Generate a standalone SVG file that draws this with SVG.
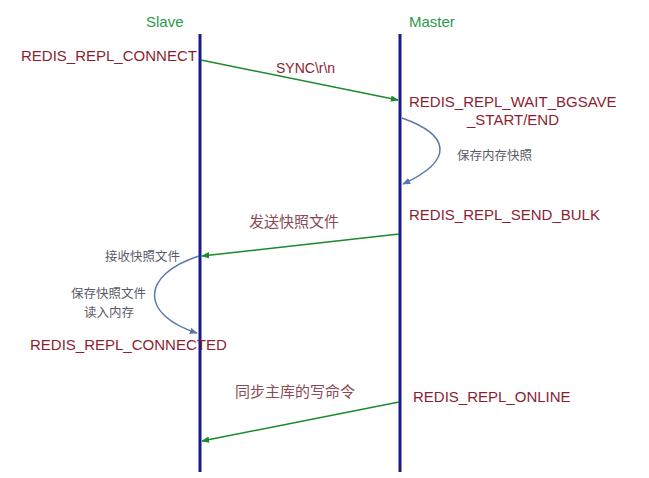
<svg xmlns="http://www.w3.org/2000/svg" width="649" height="478" viewBox="0 0 649 478">
<style>
.state{font-family:"Liberation Sans",Arial,sans-serif;font-size:15px;fill:#8b1e32}
.role{font-family:"Liberation Sans",Arial,sans-serif;font-size:15px;fill:#2a9a4a}
.msg{font-family:"Liberation Sans",Arial,sans-serif;font-size:14px;fill:#8b1e32}
.cn{font-family:"Noto Sans CJK SC",sans-serif;font-size:12.5px;fill:#5a5a6a}
.cnr{font-family:"Noto Sans CJK SC",sans-serif;font-size:15px;fill:#8a4a55}
.life{stroke:#1a1a8a;stroke-width:3;fill:none}
.arr{stroke:#1a8a2a;stroke-width:1.5;fill:none;marker-end:url(#ga)}
.loop{stroke:#5a78ae;stroke-width:1.5;fill:none;marker-end:url(#ba)}
</style>
<defs>
<marker id="ga" viewBox="0 0 10 10" refX="9" refY="5" markerWidth="8" markerHeight="8" orient="auto" markerUnits="userSpaceOnUse"><path d="M0,1 L10,5 L0,9 z" fill="#1a8a2a"/></marker>
<marker id="ba" viewBox="0 0 10 10" refX="9" refY="5" markerWidth="8" markerHeight="8" orient="auto" markerUnits="userSpaceOnUse"><path d="M0,1 L10,5 L0,9 z" fill="#5a78ae"/></marker>
</defs>
<rect width="649" height="478" fill="#fff"/>
<g id="slave">
<text class="role" x="146" y="27">Slave</text>
<line class="life" x1="200" y1="34" x2="200" y2="472"/>
</g>
<g id="master">
<text class="role" x="409" y="27">Master</text>
<line class="life" x1="400" y1="34" x2="400" y2="472"/>
</g>
<g id="states">
<text class="state" x="21" y="61">REDIS_REPL_CONNECT</text>
<text class="state" x="409" y="107">REDIS_REPL_WAIT_BGSAVE</text>
<text class="state" x="467" y="125">_START/END</text>
<text class="state" x="409" y="220">REDIS_REPL_SEND_BULK</text>
<text class="state" x="30" y="350">REDIS_REPL_CONNECTED</text>
<text class="state" x="413" y="402">REDIS_REPL_ONLINE</text>
</g>
<g id="connectors">
<path class="arr" d="M201,60 L398,100"/>
<path class="loop" d="M402,118 C450,135 455,160 403,184"/>
<path class="arr" d="M399,234 L202,256"/>
<path class="loop" d="M199,256 C140,275 140,315 197,333"/>
<path class="arr" d="M399,402 L202,441"/>
</g>
<g id="labels">
<text class="msg" x="276" y="73">SYNC\r\n</text>
<text class="cn" x="457" y="160">保存内存快照</text>
<text class="cnr" x="249" y="227">发送快照文件</text>
<text class="cn" x="105" y="261">接收快照文件</text>
<text class="cn" x="71" y="298">保存快照文件</text>
<text class="cn" x="84" y="317">读入内存</text>
<text class="cnr" x="235" y="397">同步主库的写命令</text>
</g>
</svg>
